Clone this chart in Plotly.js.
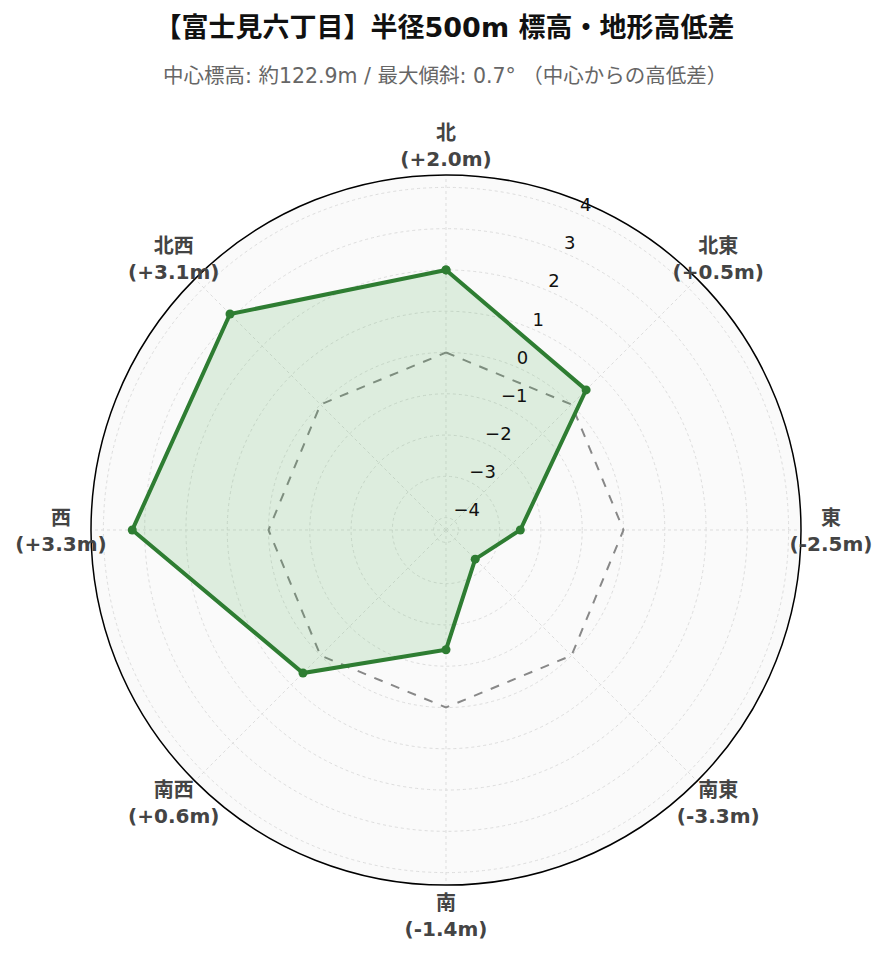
<!DOCTYPE html>
<html>
<head>
<meta charset="utf-8">
<script src="https://cdn.plot.ly/plotly-3.0.1.min.js"></script>
<style>html,body{margin:0;padding:0;background:#fff;}</style>
</head>
<body>
<div id="chart" style="width:889px;height:962px;"></div>
<script>
const directions = ["北", "北東", "東", "南東", "南", "南西", "西", "北西"];
const elevationDiff = [2.0, 0.5, -2.5, -3.3, -1.4, 0.6, 3.3, 3.1];
const diffLabels = ["+2.0m", "+0.5m", "-2.5m", "-3.3m", "-1.4m", "+0.6m", "+3.3m", "+3.1m"];
const referenceZero = [0, 0, 0, 0, 0, 0, 0, 0];
const radialTicks = [-4, -3, -2, -1, 0, 1, 2, 3, 4];
const titleText = "【富士見六丁目】半径500m 標高・地形高低差";
const subtitleText = "中心標高: 約122.9m / 最大傾斜: 0.7° （中心からの高低差）";

// ---- layout / style constants (not data) ----
const W = 889, H = 962;
const CX = 446, CY = 530, RAD = 355;      // main polar disc (pixels)
const LABEL_RAD = 385;                     // ring where direction labels sit
const LABEL_DY = 3;                        // small vertical nudge of label ring
const OUTER_RAD = 400;                     // helper subplot radius for labels
const TICK_SHIFT = [-6, -15];              // radial tick label offset (pixels)
const radialRange = [-4.3, 4.3];

function dom(cx, cy, rad) {
  return {
    x: [(cx - rad) / W, (cx + rad) / W],
    y: [(H - cy - rad) / H, (H - cy + rad) / H]
  };
}

const closeLoop = a => a.concat([a[0]]);
const dirLabelText = directions.map((d, i) => "<b>" + d + "</b><br><b>(" + diffLabels[i] + ")</b>");

const traces = [
  {
    type: "scatterpolar", subplot: "polar",
    r: closeLoop(referenceZero),
    theta: closeLoop(directions),
    mode: "lines",
    line: {color: "#888888", width: 2, dash: "dash"},
    hoverinfo: "skip", showlegend: false
  },
  {
    type: "scatterpolar", subplot: "polar",
    r: closeLoop(elevationDiff),
    theta: closeLoop(directions),
    mode: "lines+markers",
    fill: "toself",
    fillcolor: "rgba(76,175,80,0.16)",
    line: {color: "#2e7d32", width: 4},
    marker: {color: "#2e7d32", size: 9},
    showlegend: false
  },
  {
    type: "scatterpolar", subplot: "polar2",
    r: directions.map(() => 1),
    theta: directions,
    mode: "text",
    text: dirLabelText,
    textposition: "middle center",
    textfont: {family: "DejaVu Sans, Noto Sans CJK JP, sans-serif", size: 20, color: "#444"},
    cliponaxis: false,
    hoverinfo: "skip", showlegend: false
  },
  {
    type: "scatterpolar", subplot: "polar3",
    r: [radialTicks[0]],
    theta: [directions[0]],
    mode: "markers",
    marker: {opacity: 0},
    hoverinfo: "skip", showlegend: false
  }
];

const hiddenAngular = {
  visible: false, direction: "clockwise", rotation: 90,
  type: "category", categoryarray: directions
};

const layout = {
  width: W,
  height: H,
  paper_bgcolor: "#ffffff",
  font: {family: "DejaVu Sans, Noto Sans CJK JP, sans-serif", color: "#222"},
  margin: {l: 0, r: 0, t: 0, b: 0},
  showlegend: false,
  title: {
    text: "<b>" + titleText + "</b>",
    font: {family: "DejaVu Sans, Noto Sans CJK JP, sans-serif", size: 27, color: "#111"},
    x: 0.5, xanchor: "center",
    y: 0.971, yanchor: "middle"
  },
  annotations: [{
    text: subtitleText,
    xref: "paper", yref: "paper",
    x: 0.5, xanchor: "center",
    y: 1 - 76 / H, yanchor: "middle",
    showarrow: false,
    font: {family: "DejaVu Sans, Noto Sans CJK JP, sans-serif", size: 20.5, color: "#666"}
  }],
  polar: {
    domain: dom(CX, CY, RAD),
    bgcolor: "#fafafa",
    angularaxis: {
      direction: "clockwise",
      rotation: 90,
      type: "category",
      categoryarray: directions,
      showticklabels: false,
      showline: true,
      linecolor: "#000000",
      linewidth: 1.5,
      ticks: "",
      gridcolor: "#dddddd",
      griddash: "dot",
      gridwidth: 1
    },
    radialaxis: {
      range: radialRange,
      tickvals: radialTicks,
      angle: 67.5,
      showticklabels: false,
      showline: false,
      ticks: "",
      gridcolor: "#dddddd",
      griddash: "dot",
      gridwidth: 1
    }
  },
  polar2: {
    domain: dom(CX, CY + LABEL_DY, OUTER_RAD),
    bgcolor: "rgba(0,0,0,0)",
    angularaxis: hiddenAngular,
    radialaxis: {visible: false, range: [0, OUTER_RAD / LABEL_RAD]}
  },
  polar3: {
    domain: dom(CX + TICK_SHIFT[0], CY + TICK_SHIFT[1], RAD),
    bgcolor: "rgba(0,0,0,0)",
    angularaxis: hiddenAngular,
    radialaxis: {
      range: radialRange,
      tickvals: radialTicks,
      angle: 67.5,
      tickangle: 67.5,
      showgrid: false,
      showline: false,
      ticks: "",
      tickfont: {family: "DejaVu Sans, sans-serif", size: 18, color: "#111"}
    }
  }
};

Plotly.newPlot("chart", traces, layout, {displayModeBar: false, responsive: false});
</script>
</body>
</html>
